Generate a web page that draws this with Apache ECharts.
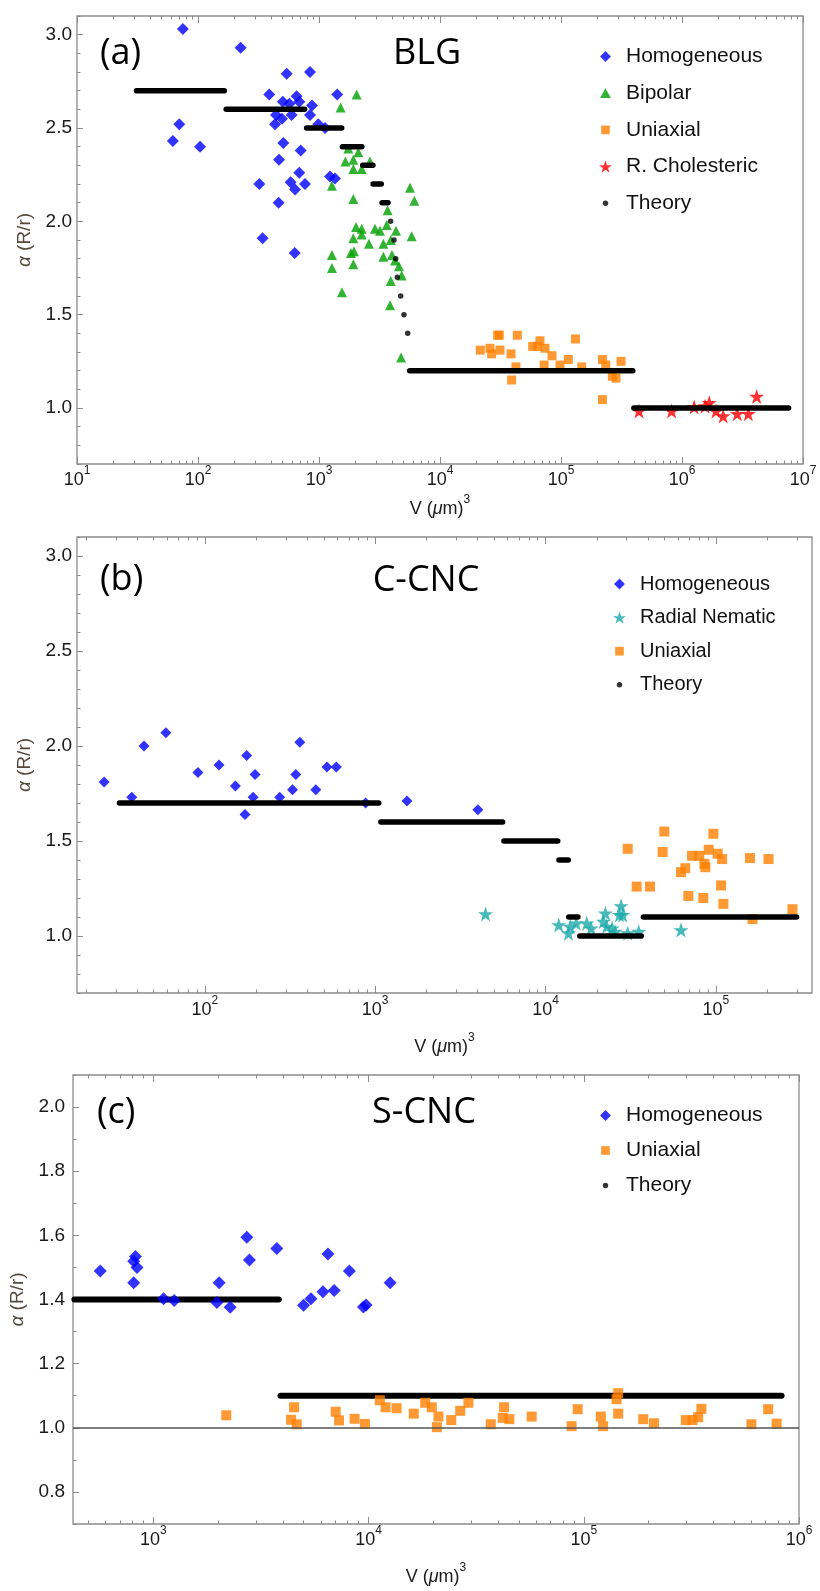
<!DOCTYPE html>
<html>
<head>
<meta charset="utf-8">
<script src="https://cdn.jsdelivr.net/npm/echarts@6/dist/echarts.min.js"></script>
<style>
  html, body { margin: 0; padding: 0; background: #fff; }
  #chart { width: 820px; height: 1591px; }
</style>
</head>
<body>
<div id="chart"></div>
<script>
// ---- Data: [V (um^3), alpha] ----

// (a) BLG
const blgHomogeneous = [
  [75, 3.03], [225, 2.93], [70, 2.52], [62, 2.43], [104, 2.40], [541, 2.79], [843, 2.80],
  [388, 2.68], [1416, 2.68], [502, 2.64], [569, 2.63], [653, 2.67], [687, 2.64], [875, 2.62],
  [441, 2.57], [494, 2.55], [594, 2.57], [843, 2.57], [433, 2.52], [986, 2.52], [1122, 2.50],
  [507, 2.42], [706, 2.38], [467, 2.33], [321, 2.20], [583, 2.21], [687, 2.26], [634, 2.17],
  [766, 2.20], [464, 2.10], [1233, 2.24], [1356, 2.23], [342, 1.91], [630, 1.83]
];
const blgBipolar = [
  [2046, 2.68], [1510, 2.61], [1279, 2.19], [1746, 2.39], [2112, 2.37], [1922, 2.33], [1652, 2.32],
  [1922, 2.28], [2254, 2.28], [2637, 2.32], [1922, 2.12], [5650, 2.18], [6137, 2.11], [3690, 2.06],
  [2024, 1.97], [2254, 1.96], [2904, 1.96], [3193, 1.95], [3631, 1.98], [4329, 1.95], [5832, 1.92],
  [1922, 1.91], [2254, 1.93], [2588, 1.88], [3405, 1.88], [3918, 1.90], [1837, 1.83], [1945, 1.84],
  [1279, 1.82], [3405, 1.81], [4005, 1.82], [1922, 1.77], [1279, 1.75], [4248, 1.79], [4584, 1.76],
  [4822, 1.71], [3918, 1.68], [1549, 1.62], [3866, 1.55], [4768, 1.27]
];
const blgUniaxial = [
  [21540, 1.31], [25880, 1.32], [26730, 1.29], [29980, 1.39], [30900, 1.39], [31330, 1.31],
  [38640, 1.29], [43550, 1.39], [39100, 1.15], [42430, 1.22], [58320, 1.33], [67020, 1.36],
  [64120, 1.33], [73770, 1.32], [84310, 1.28], [72510, 1.23], [98150, 1.23], [115000, 1.26],
  [131800, 1.37], [148300, 1.22], [220000, 1.26], [234500, 1.23], [313600, 1.25], [265600, 1.17],
  [285000, 1.16], [220000, 1.045]
];
const blgCholesteric = [
  [441000, 0.984], [821000, 0.984], [1260000, 1.005], [1550000, 1.01], [1680000, 1.028],
  [1910000, 0.984], [2190000, 0.957], [2860000, 0.969], [3530000, 0.969], [4140000, 1.062]
];
// theory plateaus: [V from, V to, alpha]
const blgTheorySteps = [
  [31, 165, 2.7], [171, 760, 2.6], [790, 1540, 2.5], [1560, 2260, 2.4], [2300, 2790, 2.3],
  [2800, 3270, 2.2], [3320, 3720, 2.1], [5620, 392000, 1.2], [400000, 7600000, 1.0]
];
const blgTheoryDots = [[3908, 2.0], [4169, 1.9], [4305, 1.8], [4440, 1.7], [4733, 1.6], [5038, 1.5], [5408, 1.4]];

// (b) C-CNC
const ccncHomogeneous = [
  [25.6, 1.81], [37.2, 1.73], [43.9, 2.00], [59, 2.07], [91, 1.86], [121, 1.90], [151, 1.79],
  [176, 1.95], [172, 1.64], [197, 1.85], [192, 1.73], [275, 1.73], [327, 1.77], [342, 1.85],
  [361, 2.02], [448, 1.77], [521, 1.89], [591, 1.89], [879, 1.70], [1537, 1.71], [4010, 1.665]
];
const ccncRadialNematic = [
  [4446, 1.116], [11970, 1.058], [13650, 1.015], [13960, 1.05], [15140, 1.067], [17470, 1.067],
  [18540, 1.041], [21880, 1.076], [22480, 1.12], [22890, 1.05], [24620, 1.041], [27790, 1.158],
  [27180, 1.111], [28400, 1.111], [25640, 1.023], [30400, 1.015], [35270, 1.023], [62480, 1.032]
];
const ccncUniaxial = [
  [30400, 1.459], [34300, 1.26], [41100, 1.26], [49860, 1.55], [48740, 1.442], [62480, 1.336],
  [66230, 1.357], [69000, 1.211], [72540, 1.422], [80000, 1.422], [84500, 1.20], [85700, 1.38],
  [86900, 1.362], [90900, 1.454], [96800, 1.538], [102600, 1.433], [108900, 1.405], [107400, 1.266],
  [110800, 1.169], [158700, 1.41], [204000, 1.405], [164300, 1.089], [282000, 1.141]
];
const ccncTheorySteps = [
  [31.5, 1050, 1.7], [1080, 5600, 1.6], [5700, 11800, 1.5], [12000, 13600, 1.4],
  [13700, 15500, 1.1], [15900, 36500, 1.0], [37600, 298000, 1.1]
];

// (c) S-CNC
const scncHomogeneous = [
  [567, 1.489], [811, 1.452], [826, 1.534], [811, 1.519], [840, 1.50], [1116, 1.402], [1251, 1.397],
  [1974, 1.391], [2022, 1.452], [2277, 1.376], [2720, 1.594], [2798, 1.523], [3750, 1.559],
  [4990, 1.382], [5400, 1.402], [6140, 1.424], [6477, 1.542], [6926, 1.428], [8150, 1.489],
  [9470, 1.377], [9745, 1.383], [12600, 1.452]
];
const scncUniaxial = [
  [2183, 1.039], [4510, 1.064], [4365, 1.025], [4637, 1.011], [7036, 1.05], [7294, 1.023],
  [8616, 1.028], [9620, 1.012], [11290, 1.086], [12000, 1.064], [13500, 1.061], [16230, 1.044],
  [18340, 1.078], [19680, 1.064], [21130, 1.035], [20780, 1.002], [24230, 1.024], [26670, 1.053],
  [29120, 1.078], [36980, 1.011], [42640, 1.064], [42060, 1.031], [45120, 1.027], [57300, 1.035],
  [87800, 1.005], [93700, 1.058], [120000, 1.035], [123000, 1.005], [144500, 1.108], [142000, 1.089],
  [144500, 1.044], [189000, 1.027], [212000, 1.014], [298000, 1.024], [320000, 1.024], [340000, 1.033],
  [352000, 1.059], [601000, 1.011], [719000, 1.058], [787000, 1.013]
];
const scncTheorySteps = [[430, 3830, 1.4], [3900, 830000, 1.1]];
const scncReference = 1.0;

// tick labels
const xDecadesA = [1, 2, 3, 4, 5, 6, 7];
const xDecadesB = [2, 3, 4, 5];
const xDecadesC = [3, 4, 5, 6];
const yMajorAB = [1.0, 1.5, 2.0, 2.5, 3.0];
const yMajorC = [0.8, 1.0, 1.2, 1.4, 1.6, 1.8, 2.0];

// ---- helpers ----
const FONT = '"Liberation Sans", Arial, Helvetica, sans-serif';
const TICK = { color: '#8c8c8c', width: 1 };
const STAR = 'path://M50,2L61.8,36.2L97.6,36.2L68.6,57.5L79.4,91.8L50,70.8L20.6,91.8L31.4,57.5L2.4,36.2L38.2,36.2Z';
// legend icons (invisible moveTo points pad the box so the marks stay small)
const LEGEND_ICONS = {
  'Homogeneous': 'path://M-1,-1M11,11M5,0L10,5L5,10L0,5Z',
  'Bipolar': 'path://M-1,-1M11,11M5,0.5L10,9.5L0,9.5Z',
  'Uniaxial': 'path://M-1,-1M11,11M1,1L9,1L9,9L1,9Z',
  'R. Cholesteric': STAR,
  'Radial Nematic': STAR,
  'Theory': 'path://M0,0M12,12M3.5,6a2.5,2.5 0 1,0 5,0a2.5,2.5 0 1,0 -5,0Z'
};

function logMinor(lo, hi) {
  const out = [];
  for (let d = Math.floor(lo); d < Math.ceil(hi); d++) {
    for (let k = 2; k <= 9; k++) {
      const v = d + Math.log10(k);
      if (v > lo && v < hi) out.push(v);
    }
  }
  return out;
}
function linMinor(lo, hi, step, majors) {
  const out = [];
  for (let i = Math.ceil(lo / step - 1e-9); i * step <= hi + 1e-9; i++) {
    const v = +(i * step).toFixed(3);
    if (!majors.some(m => Math.abs(m - v) < 1e-6)) out.push(v);
  }
  return out;
}

const panels = [
  { grid: { left: 77, top: 16, width: 726, height: 448 }, x: [1, 7], y: [0.7, 3.1],
    xMajor: xDecadesA, yMajor: yMajorAB, yStep: 0.1, xLabelMargin: 1, xNameGap: 30, yNameGap: 37, yLabelMargin: 5 },
  { grid: { left: 77, top: 537, width: 735, height: 456 }, x: [1.249, 5.565], y: [0.7, 3.1],
    xMajor: xDecadesB, yMajor: yMajorAB, yStep: 0.1, xLabelMargin: 2, xNameGap: 39, yNameGap: 37, yLabelMargin: 5 },
  { grid: { left: 73, top: 1075, width: 726, height: 449 }, x: [2.627, 6], y: [0.7, 2.1],
    xMajor: xDecadesC, yMajor: yMajorC, yStep: 0.1, xLabelMargin: 1, xNameGap: 38, yNameGap: 37, yLabelMargin: 8 }
];

const grids = [], xAxes = [], yAxes = [];
panels.forEach((p, i) => {
  grids.push(Object.assign({ show: true, borderColor: '#8c8c8c', borderWidth: 1.3 }, p.grid));
  const base = { type: 'value', gridIndex: i, min: p.x[0], max: p.x[1],
    axisLine: { show: false }, splitLine: { show: false } };
  const minor = logMinor(p.x[0], p.x[1]);
  xAxes.push(Object.assign({}, base, {
    position: 'bottom',
    axisTick: { inside: true, length: 7, customValues: p.xMajor, lineStyle: TICK },
    axisLabel: {
      customValues: p.xMajor, margin: p.xLabelMargin,
      formatter: v => '{b|10}{s|' + Math.round(v) + '}',
      rich: {
        b: { fontSize: 18, lineHeight: 24, verticalAlign: 'bottom', fontFamily: FONT, color: '#1a1a1a' },
        s: { fontSize: 12, lineHeight: 12, verticalAlign: 'top', fontFamily: FONT, color: '#1a1a1a' }
      }
    },
    name: '{n|V (}{i|\u03bc}{n|m)}{s|3}', nameLocation: 'middle', nameGap: p.xNameGap,
    nameTextStyle: {
      rich: {
        n: { fontSize: 18, lineHeight: 24, verticalAlign: 'bottom', fontFamily: FONT, color: '#1a1a1a' },
        i: { fontSize: 18, lineHeight: 24, verticalAlign: 'bottom', fontStyle: 'italic', fontFamily: FONT, color: '#1a1a1a' },
        s: { fontSize: 12, lineHeight: 12, verticalAlign: 'top', fontFamily: FONT, color: '#1a1a1a' }
      }
    }
  }));
  xAxes.push(Object.assign({}, base, { position: 'bottom', axisLabel: { show: false },
    axisTick: { inside: true, length: 3.5, customValues: minor, lineStyle: TICK } }));
  xAxes.push(Object.assign({}, base, { position: 'top', axisLabel: { show: false },
    axisTick: { inside: true, length: 7, customValues: p.xMajor, lineStyle: TICK } }));
  xAxes.push(Object.assign({}, base, { position: 'top', axisLabel: { show: false },
    axisTick: { inside: true, length: 3.5, customValues: minor, lineStyle: TICK } }));

  const ybase = { type: 'value', gridIndex: i, min: p.y[0], max: p.y[1], position: 'left',
    axisLine: { show: false }, splitLine: { show: false } };
  yAxes.push(Object.assign({}, ybase, {
    axisTick: { inside: true, length: 6, customValues: p.yMajor, lineStyle: TICK },
    axisLabel: { customValues: p.yMajor, margin: p.yLabelMargin, formatter: v => v.toFixed(1),
      fontSize: 19, fontFamily: FONT, color: '#1a1a1a' },
    name: '{i|\u03b1}{n| (R/r)}', nameLocation: 'middle', nameRotate: 90, nameGap: p.yNameGap,
    nameTextStyle: {
      rich: {
        i: { fontSize: 19, fontStyle: 'italic', fontFamily: FONT, color: '#54493e' },
        n: { fontSize: 19, fontFamily: FONT, color: '#54493e' }
      }
    }
  }));
  yAxes.push(Object.assign({}, ybase, { axisLabel: { show: false },
    axisTick: { inside: true, length: 3.5, customValues: linMinor(p.y[0], p.y[1], p.yStep, p.yMajor), lineStyle: TICK } }));
});

function scatter(name, pts, gi, symbol, size, color, z) {
  return { type: 'scatter', name, xAxisIndex: gi * 4, yAxisIndex: gi * 2, symbol, symbolSize: size,
    itemStyle: { color }, z: z || 2, silent: true,
    data: pts.map(p => [Math.log10(p[0]), p[1]]) };
}
function steps(list, gi, width, z) {
  return list.map(s => ({ type: 'line', name: 'Theory', xAxisIndex: gi * 4, yAxisIndex: gi * 2,
    symbol: 'none', silent: true, z, itemStyle: { color: '#000' },
    lineStyle: { color: '#000', width, cap: 'round' },
    data: [[Math.log10(s[0]), s[2]], [Math.log10(s[1]), s[2]]] }));
}

const series = [
  scatter('Homogeneous', blgHomogeneous, 0, 'diamond', 12, '#0000ff'),
  scatter('Bipolar', blgBipolar, 0, 'triangle', 10, '#00a000'),
  scatter('Uniaxial', blgUniaxial, 0, 'rect', 9, '#ff8000'),
  scatter('R. Cholesteric', blgCholesteric, 0, STAR, 15, '#ff0000'),
  scatter('Theory', blgTheoryDots, 0, 'circle', 5.5, '#000', 4),
  ...steps(blgTheorySteps, 0, 5.5, 4),

  scatter('Homogeneous', ccncHomogeneous, 1, 'diamond', 11, '#0000ff'),
  scatter('Radial Nematic', ccncRadialNematic, 1, STAR, 15, '#1aa9a9'),
  scatter('Uniaxial', ccncUniaxial, 1, 'rect', 10, '#ff8000'),
  ...steps(ccncTheorySteps, 1, 5.5, 4),

  ...steps(scncTheorySteps, 2, 6, 1),
  scatter('Homogeneous', scncHomogeneous, 2, 'diamond', 13, '#0000ff'),
  scatter('Uniaxial', scncUniaxial, 2, 'rect', 10, '#ff8000')
];
// reference line alpha = 1 in panel (c)
series[series.length - 1].markLine = {
  silent: true, symbol: ['none', 'none'], label: { show: false }, animation: false,
  lineStyle: { color: '#555', width: 1.6, type: 'solid' },
  data: [{ yAxis: scncReference }]
};

function legend(left, top, gap, fs, names) {
  return { orient: 'vertical', left, top, padding: 0, itemGap: gap, itemWidth: 13, itemHeight: 13,
    selectedMode: false,
    textStyle: { fontSize: fs, fontFamily: FONT, color: '#111', padding: [0, 0, 0, 9] },
    data: names.map(n => ({ name: n, icon: LEGEND_ICONS[n] })) };
}

function label(text, x, y, size, align) {
  return { type: 'text', x, y, silent: true,
    style: { text, fill: '#000', font: 'normal ' + size + 'px "Open Sans", "Noto Sans", sans-serif',
      align: align, verticalAlign: 'middle' } };
}

const chart = echarts.init(document.getElementById('chart'), null, { renderer: 'canvas' });
chart.setOption({
  animation: false,
  backgroundColor: '#fff',
  grid: grids,
  xAxis: xAxes,
  yAxis: yAxes,
  legend: [
    legend(599, 46, 15.7, 21, ['Homogeneous', 'Bipolar', 'Uniaxial', 'R. Cholesteric', 'Theory']),
    legend(613, 574, 13.6, 20, ['Homogeneous', 'Radial Nematic', 'Uniaxial', 'Theory']),
    legend(599, 1105, 14, 21, ['Homogeneous', 'Uniaxial', 'Theory'])
  ],
  graphic: [
    label('(a)', 100, 54, 36, 'left'), label('BLG', 427, 54, 36, 'center'),
    label('(b)', 100, 580, 36, 'left'), label('C-CNC', 426, 581, 36, 'center'),
    label('(c)', 97, 1113, 36, 'left'), label('S-CNC', 424, 1113, 36, 'center')
  ],
  series
});
</script>
</body>
</html>
